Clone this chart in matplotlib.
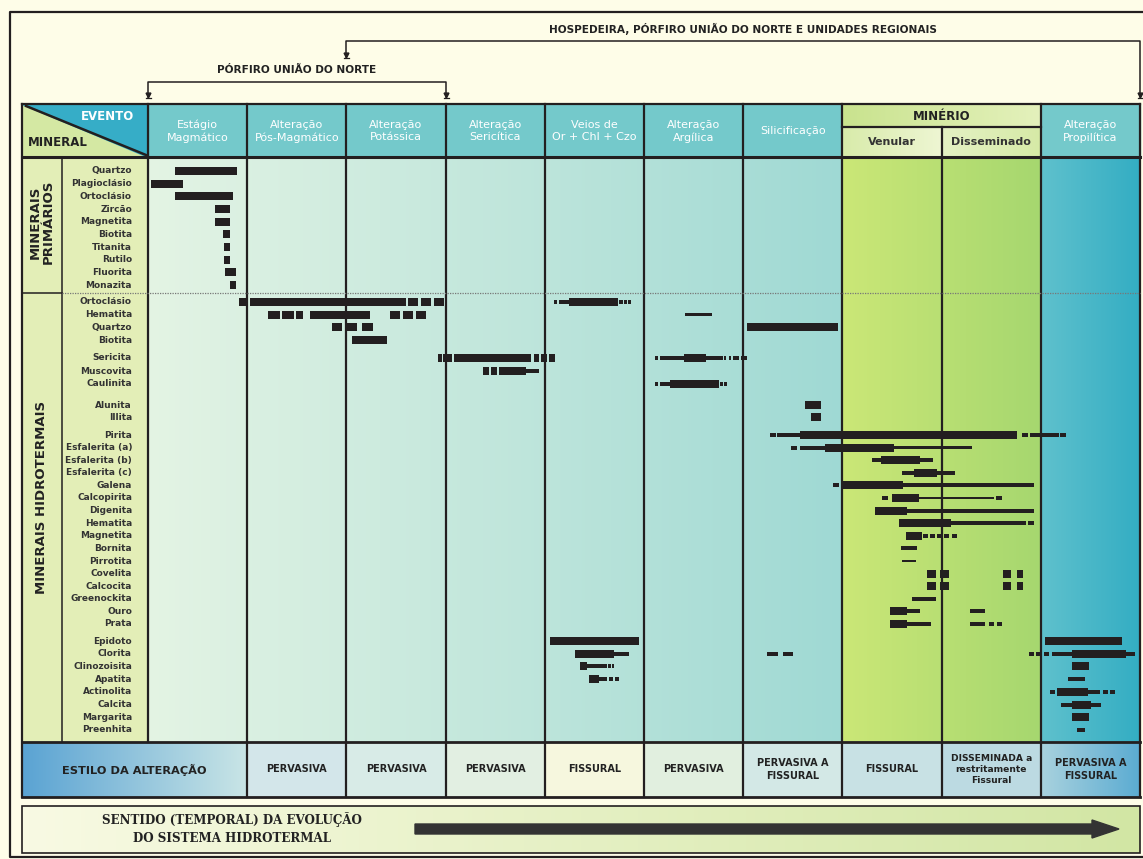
import numpy as np
import matplotlib.pyplot as plt
from matplotlib.colors import LinearSegmentedColormap
from matplotlib.patches import Polygon, Rectangle

# ---- data: stages, minerals and paragenetic segments (start, end, weight) in stage units ----
stages = ['Estágio\nMagmático', 'Alteração\nPós-Magmático', 'Alteração\nPotássica',
          'Alteração\nSericítica', 'Veios de\nOr + Chl + Czo', 'Alteração\nArgílica',
          'Silicificação', 'Venular', 'Disseminado', 'Alteração\nPropilítica']
styles = ['PERVASIVA', 'PERVASIVA', 'PERVASIVA', 'FISSURAL', 'PERVASIVA',
          'PERVASIVA A\nFISSURAL', 'FISSURAL', 'DISSEMINADA a\nrestritamente\nFissural',
          'PERVASIVA A\nFISSURAL']

primary_minerals = ['Quartzo', 'Plagioclásio', 'Ortoclásio', 'Zircão', 'Magnetita',
                    'Biotita', 'Titanita', 'Rutilo', 'Fluorita', 'Monazita']
primary_segments = [
    [(0.27, 0.90, 'T')], [(0.03, 0.35, 'T')], [(0.27, 0.86, 'T')], [(0.68, 0.83, 'T')],
    [(0.68, 0.83, 'T')], [(0.76, 0.83, 'T')], [(0.77, 0.83, 'T')], [(0.77, 0.83, 'T')],
    [(0.78, 0.89, 'T')], [(0.83, 0.89, 'T')],
]

hydro_groups = [
    ['Ortoclásio', 'Hematita', 'Quartzo', 'Biotita'],
    ['Sericita', 'Muscovita', 'Caulinita'],
    ['Alunita', 'Illita'],
    ['Pirita', 'Esfalerita (a)', 'Esfalerita (b)', 'Esfalerita (c)', 'Galena', 'Calcopirita',
     'Digenita', 'Hematita', 'Magnetita', 'Bornita', 'Pirrotita', 'Covelita', 'Calcocita',
     'Greenockita', 'Ouro', 'Prata'],
    ['Epidoto', 'Clorita', 'Clinozoisita', 'Apatita', 'Actinolita', 'Calcita', 'Margarita',
     'Preenhita'],
]
hydro_segments = [
    # Ortoclasio
    [(0.92, 1.01, 'T'), (1.03, 2.60, 'T'), (2.62, 2.72, 'T'), (2.75, 2.85, 'T'), (2.88, 2.98, 'T'),
     (4.09, 4.12, 'M'), (4.14, 4.24, 'M'), (4.24, 4.74, 'T'), (4.75, 4.79, 'M'), (4.80, 4.83, 'M'),
     (4.84, 4.87, 'M')],
    # Hematita
    [(1.21, 1.33, 'T'), (1.35, 1.47, 'T'), (1.49, 1.56, 'T'), (1.63, 2.24, 'T'), (2.44, 2.54, 'T'),
     (2.57, 2.67, 'T'), (2.70, 2.80, 'T'), (5.41, 5.69, 't')],
    # Quartzo
    [(1.85, 1.96, 'T'), (1.99, 2.11, 'T'), (2.16, 2.27, 'T'), (6.04, 6.96, 'T')],
    # Biotita
    [(2.06, 2.41, 'T')],
    # Sericita
    [(2.92, 2.96, 'T'), (2.97, 3.06, 'T'), (3.08, 3.86, 'T'), (3.89, 3.94, 'T'), (3.96, 4.02, 'T'),
     (4.04, 4.10, 'T'), (5.11, 5.14, 'M'), (5.16, 5.40, 'M'), (5.40, 5.62, 'T'), (5.62, 5.80, 'M'),
     (5.81, 5.83, 'M'), (5.86, 5.88, 'M'), (5.90, 5.96, 'M'), (5.98, 6.04, 'M')],
    # Muscovita
    [(3.38, 3.44, 'T'), (3.46, 3.52, 'T'), (3.54, 3.81, 'T'), (3.81, 3.94, 'M')],
    # Caulinita
    [(5.11, 5.14, 'M'), (5.16, 5.26, 'M'), (5.26, 5.76, 'T'), (5.77, 5.80, 'M'), (5.81, 5.84, 'M')],
    # Alunita, Illita
    [(6.62, 6.78, 'T')],
    [(6.68, 6.78, 'T')],
    # Pirita
    [(6.27, 6.33, 'M'), (6.34, 6.57, 'M'), (6.57, 8.76, 'T'), (8.81, 8.87, 'M'), (8.89, 9.18, 'M'),
     (9.19, 9.25, 'M')],
    # Esfalerita (a), (b), (c)
    [(6.48, 6.54, 'M'), (6.57, 6.82, 'M'), (6.82, 7.52, 'T'), (7.52, 8.31, 't')],
    [(7.30, 7.39, 'M'), (7.39, 7.78, 'T'), (7.78, 7.91, 'M')],
    [(7.60, 7.72, 'M'), (7.72, 7.95, 'T'), (7.95, 8.14, 'M')],
    # Galena
    [(6.91, 6.97, 'M'), (6.99, 7.61, 'T'), (7.61, 8.93, 'M')],
    # Calcopirita
    [(7.40, 7.46, 'M'), (7.50, 7.77, 'T'), (7.77, 8.53, 't'), (8.55, 8.61, 'M')],
    # Digenita
    [(7.33, 7.65, 'T'), (7.65, 8.93, 'M')],
    # Hematita
    [(7.57, 8.09, 'T'), (8.09, 8.85, 'M'), (8.87, 8.93, 'M')],
    # Magnetita
    [(7.64, 7.80, 'T'), (7.81, 7.86, 'M'), (7.88, 7.93, 'M'), (7.95, 8.00, 'M'), (8.02, 8.07, 'M'),
     (8.10, 8.16, 'M')],
    # Bornita, Pirrotita
    [(7.59, 7.75, 'M')],
    [(7.60, 7.74, 't')],
    # Covelita, Calcocita
    [(7.85, 7.94, 'T'), (7.98, 8.07, 'T'), (8.62, 8.70, 'T'), (8.76, 8.82, 'T')],
    [(7.85, 7.94, 'T'), (7.98, 8.07, 'T'), (8.62, 8.70, 'T'), (8.76, 8.82, 'T')],
    # Greenockita
    [(7.70, 7.94, 'M')],
    # Ouro, Prata
    [(7.48, 7.65, 'T'), (7.65, 7.78, 'M'), (8.29, 8.44, 'M')],
    [(7.48, 7.65, 'T'), (7.65, 7.89, 'M'), (8.29, 8.44, 'M'), (8.48, 8.53, 'M'), (8.56, 8.61, 'M')],
    # Epidoto
    [(4.05, 4.95, 'T'), (9.04, 9.82, 'T')],
    # Clorita
    [(4.30, 4.70, 'T'), (4.70, 4.85, 'M'), (6.24, 6.35, 'M'), (6.40, 6.50, 'M'), (8.88, 8.93, 'M'),
     (8.95, 9.00, 'M'), (9.03, 9.08, 'M'), (9.11, 9.31, 'M'), (9.31, 9.86, 'T'), (9.86, 9.95, 'M')],
    # Clinozoisita
    [(4.35, 4.43, 'T'), (4.43, 4.63, 'M'), (4.64, 4.67, 'M'), (4.68, 4.70, 'M'), (9.31, 9.49, 'T')],
    # Apatita
    [(4.45, 4.55, 'T'), (4.55, 4.63, 'M'), (4.65, 4.69, 'M'), (4.71, 4.75, 'M'), (9.27, 9.45, 'M')],
    # Actinolita
    [(9.09, 9.14, 'M'), (9.16, 9.48, 'T'), (9.48, 9.60, 'M'), (9.63, 9.68, 'M'), (9.70, 9.75, 'M')],
    # Calcita
    [(9.20, 9.31, 'M'), (9.31, 9.51, 'T'), (9.51, 9.61, 'M')],
    # Margarita, Preenhita
    [(9.31, 9.49, 'T')],
    [(9.36, 9.45, 'M')],
]

# ---- layout (pixel space of the 1143x859 sheet) ----
W, H = 1143, 859
X0, X1 = 148, 1140          # stage columns
TOP, HEAD, BOT, STY = 104, 157, 742, 797
col_w = (X1 - X0) / 10
col_x = [X0 + col_w * i for i in range(11)]
thick = {'T': 8, 'M': 4.0, 't': 2.6}
ink = '#231f20'

fig = plt.figure(figsize=(W / 100, H / 100), dpi=100)
fig.patch.set_facecolor('#fefde8')
ax = fig.add_axes([0, 0, 1, 1])
ax.axis('off')


def grad(x0, x1, y0, y1, c0, c1, z=0):
    cm = LinearSegmentedColormap.from_list('g', [c0, c1])
    ax.imshow(np.linspace(0, 1, 256)[None, :], cmap=cm, extent=(x0, x1, y1, y0),
              aspect='auto', zorder=z, interpolation='bilinear')


# backgrounds of the body
grad(col_x[0], col_x[7], HEAD, BOT, '#e4f4e4', '#9fd9d4')
grad(col_x[7], col_x[9], HEAD, BOT, '#cbe777', '#a6d76f')
grad(col_x[9], col_x[10], HEAD, BOT, '#5fc1cd', '#33adc3')
ax.add_patch(Rectangle((22, HEAD), X0 - 22, BOT - HEAD, color='#e3eeb7', zorder=0.5))

# header cells
for i in range(10):
    if i in (7, 8):
        continue
    ax.add_patch(Rectangle((col_x[i], TOP), col_w, HEAD - TOP, color='#74c9cb', zorder=1))
    ax.text((col_x[i] + col_x[i + 1]) / 2, (TOP + HEAD) / 2 + 1, stages[i], color='white',
            ha='center', va='center', fontsize=8, linespacing=1.25, zorder=3)
grad(col_x[7], col_x[9], TOP, 127, '#c9e38e', '#e4f1bc', z=1)
grad(col_x[7], col_x[8], 127, HEAD, '#d8ebaa', '#eef6d3', z=1)
grad(col_x[8], col_x[9], 127, HEAD, '#e4f1c4', '#d6eaa6', z=1)
ax.text(col_x[8], 116, 'MINÉRIO', ha='center', va='center', fontsize=8.5,
        fontweight='bold', color='#222', zorder=3)
for i in (7, 8):
    ax.text((col_x[i] + col_x[i + 1]) / 2, 142, stages[i], ha='center', va='center',
            fontsize=8, fontweight='bold', color='#333', zorder=3)

# corner cell EVENTO / MINERAL
ax.add_patch(Polygon([(22, TOP), (22, HEAD), (X0, HEAD)], color='#d4e8a3', zorder=1))
ax.add_patch(Polygon([(22, TOP), (X0, TOP), (X0, HEAD)], color='#36adc7', zorder=1))
ax.plot([26, X0 - 2], [TOP + 2, HEAD - 2], color=ink, lw=1.8, zorder=3)
ax.text(108, 116, 'EVENTO', color='white', fontsize=8.5, fontweight='bold',
        ha='center', va='center', zorder=3)
ax.text(58, 142, 'MINERAL', color='#222', fontsize=8.5, fontweight='bold',
        ha='center', va='center', zorder=3)

# style row
grad(22, col_x[1], BOT, STY, '#5aa3d3', '#c9e5e6', z=1)
style_cols = ['#d3e6ea', '#d8ebe7', '#e2efe2', '#f6f7de', '#e1efdf', '#d3e8e6',
              '#c8e1e4', '#bcdae2']
for i, c in enumerate(style_cols):
    ax.add_patch(Rectangle((col_x[i + 1], BOT), col_w, STY - BOT, color=c, zorder=1))
grad(col_x[9], col_x[10], BOT, STY, '#a9d2de', '#5aabd2', z=1)
ax.text((22 + col_x[1]) / 2, (BOT + STY) / 2, 'ESTILO DA ALTERAÇÃO', ha='center', va='center',
        fontsize=8.2, fontweight='bold', color='#222', zorder=3)
for i, s in enumerate(styles):
    fs = 6.6 if s.count('\n') == 2 else 7
    ax.text((col_x[i + 1] + col_x[i + 2]) / 2, (BOT + STY) / 2, s, ha='center', va='center',
            fontsize=fs, fontweight='bold', color='#222', linespacing=1.35, zorder=3)

# grid lines
lk = dict(color=ink, lw=1.6, zorder=4)
for i, x in enumerate(col_x):
    if i == 0:
        ax.plot([x, x], [TOP, BOT], **lk)
    elif i == 8:
        ax.plot([x, x], [127, STY], **lk)
    else:
        ax.plot([x, x], [TOP, STY], **lk)
ax.plot([22, 22], [TOP, STY], **lk)
ax.plot([62, 62], [HEAD, BOT], color=ink, lw=1.1, zorder=4)
for y, lw in ((TOP, 1.6), (HEAD, 2.2), (BOT, 2.0), (STY, 2.0)):
    ax.plot([22, X1], [y, y], color=ink, lw=lw, zorder=4)
ax.plot([col_x[7], col_x[9]], [127, 127], **lk)
ax.plot([22, 62], [293, 293], color=ink, lw=1.1, zorder=4)
ax.plot([62, X1], [293, 293], color='#777', lw=0.9, ls=(0, (1, 1)), zorder=4)

# group labels
ax.text(42, 222, 'MINERAIS\nPRIMÁRIOS', rotation=90, ha='center', va='center', fontsize=9.5,
        fontweight='bold', color='#222', linespacing=1.0, zorder=3)
ax.text(42, 497, 'MINERAIS HIDROTERMAIS', rotation=90, ha='center',
        va='center', fontsize=9.5, fontweight='bold', color='#222', zorder=3)

# rows
rows_y, rows_name, rows_seg = [], [], []
for k, name in enumerate(primary_minerals):
    rows_y.append(171 + 12.67 * k)
rows_name += primary_minerals
rows_seg += primary_segments
group_start = [302, 358, 405, 435, 641]
group_step = [12.67, 13, 12, 12.6, 12.7]
for g, names in enumerate(hydro_groups):
    for k in range(len(names)):
        rows_y.append(group_start[g] + group_step[g] * k)
    rows_name += names
rows_seg += hydro_segments

for y, name in zip(rows_y, rows_name):
    ax.text(132, y, name, ha='right', va='center', fontsize=6.5, fontweight='bold',
            color='#333', zorder=3)

# bars on their own stage axis
axb = fig.add_axes([X0 / W, 1 - BOT / H, (X1 - X0) / W, (BOT - HEAD) / H])
axb.set_xlim(0, 10)
axb.set_ylim(BOT, HEAD)
axb.axis('off')
axb.patch.set_alpha(0)
for y, segs in zip(rows_y, rows_seg):
    for s, e, w in segs:
        axb.barh(y, e - s, left=s, height=thick[w], color=ink, zorder=5)

# brackets on top
ax.text(743, 29, 'HOSPEDEIRA, PÓRFIRO UNIÃO DO NORTE E UNIDADES REGIONAIS', ha='center',
        va='center', fontsize=7.6, fontweight='bold', color='#222')
ax.plot([346, 346, X1, X1], [57, 41, 41, 97], color=ink, lw=1.1)
ax.text(297, 70, 'PÓRFIRO UNIÃO DO NORTE', ha='center', va='center', fontsize=7.6,
        fontweight='bold', color='#222')
ax.plot([X0, X0, 446, 446], [97, 82, 82, 97], color=ink, lw=1.1)
for x, y in ((346, 57), (X1, 97), (X0, 97), (446, 97)):
    ax.plot([x], [y - 2], marker='v', ms=3.5, color=ink)
    ax.plot([x - 2.5, x + 2.5], [y + 1, y + 1], color=ink, lw=0.9)

# evolution arrow box
grad(22, X1, 806, 853, '#f8fae3', '#d2e6a4', z=1)
ax.add_patch(Rectangle((22, 806), X1 - 22, 47, fill=False, ec=ink, lw=1.2, zorder=3))
ax.text(232, 829, 'SENTIDO (TEMPORAL) DA EVOLUÇÃO\nDO SISTEMA HIDROTERMAL', ha='center',
        va='center', fontsize=8.6, fontweight='bold', family='DejaVu Serif', color='#222',
        linespacing=1.5, zorder=3)
ax.add_patch(Polygon([(415, 824), (1092, 824), (1092, 820), (1119, 829), (1092, 838),
                      (1092, 834), (415, 834)], color='#333', zorder=3))

# outer frame
ax.plot([1150, 10, 10, 1150], [12, 12, 857, 857], color=ink, lw=1.6)

ax.set_xlim(0, W)
ax.set_ylim(H, 0)
fig.savefig('out.png', dpi=100, facecolor=fig.get_facecolor())
